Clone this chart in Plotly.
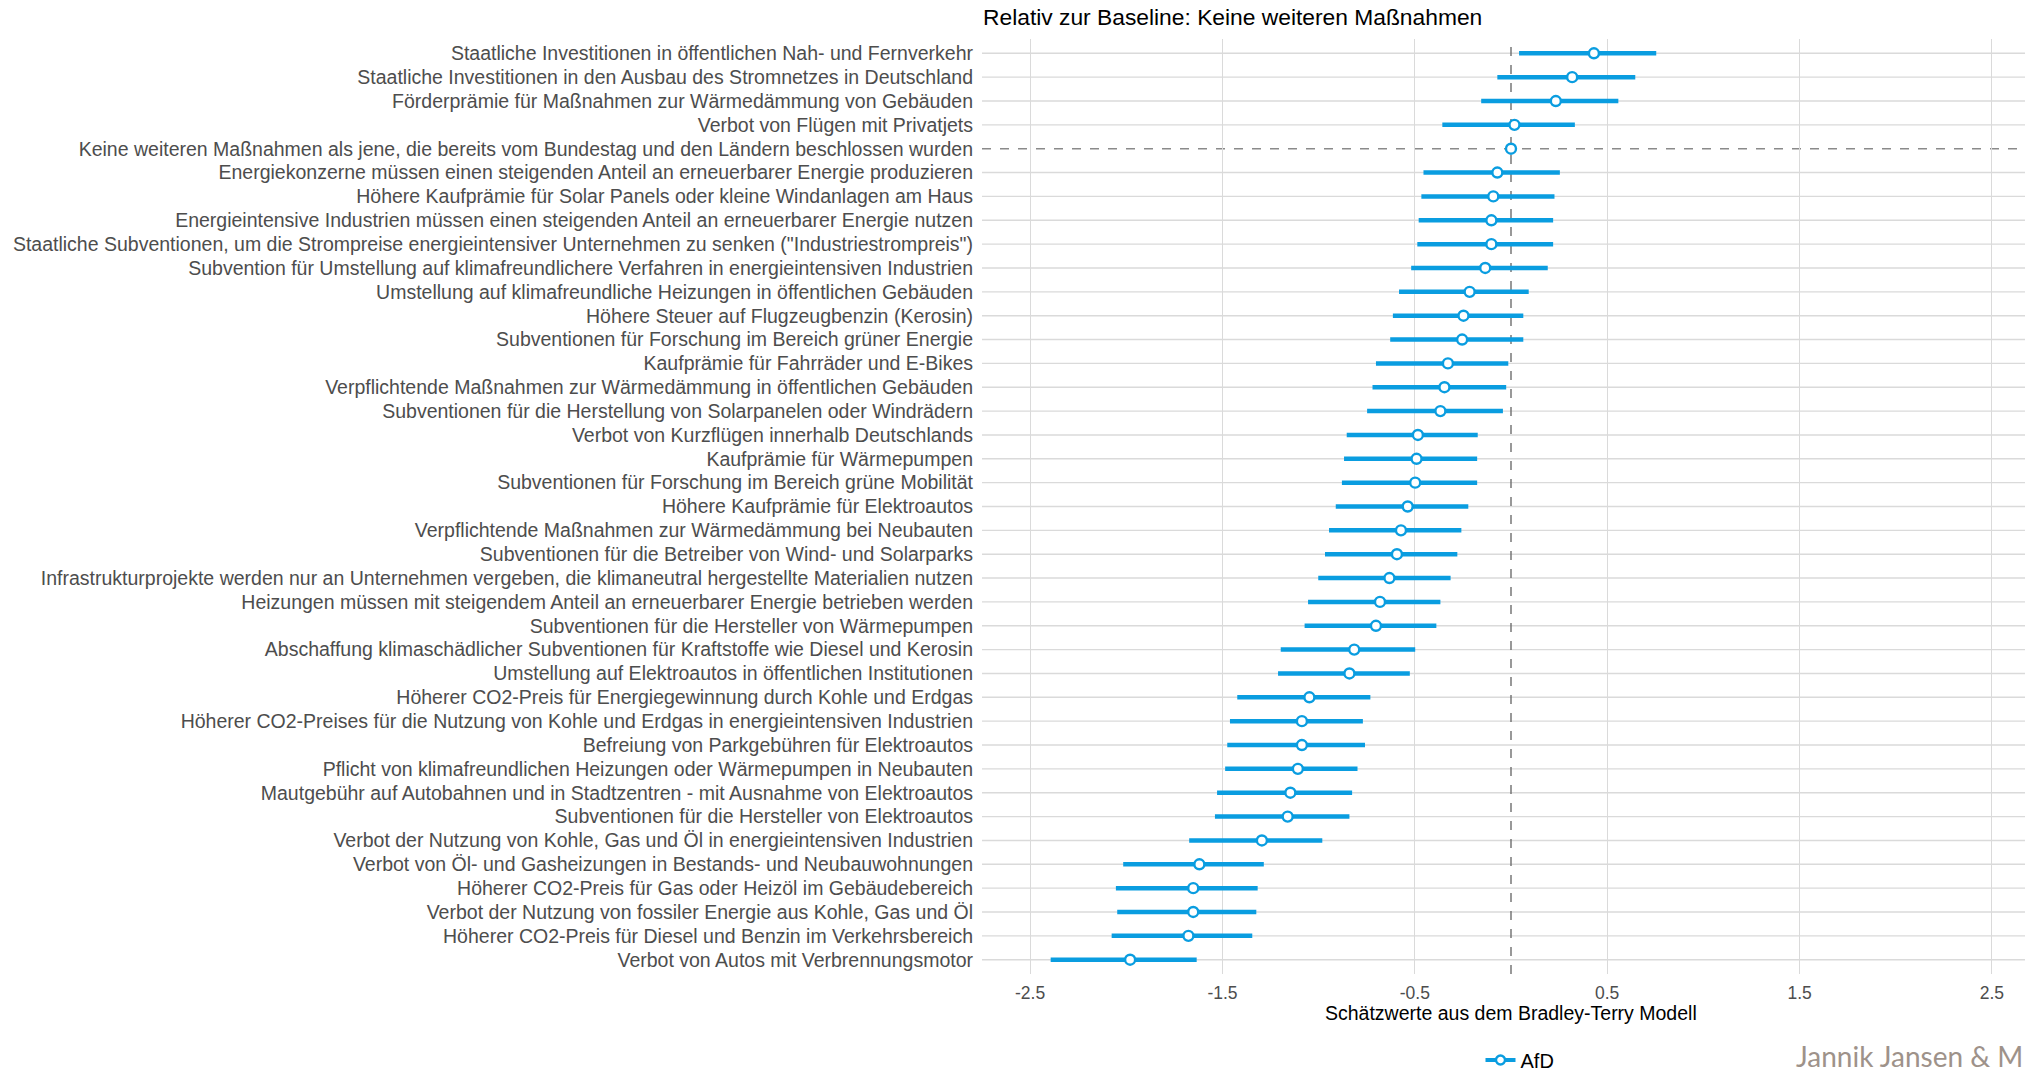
import plotly.graph_objects as go

# Maßnahmen (von oben nach unten), Schätzwerte und 95%-Konfidenzintervalle
massnahmen = [
    "Staatliche Investitionen in öffentlichen Nah- und Fernverkehr",
    "Staatliche Investitionen in den Ausbau des Stromnetzes in Deutschland",
    "Förderprämie für Maßnahmen zur Wärmedämmung von Gebäuden",
    "Verbot von Flügen mit Privatjets",
    "Keine weiteren Maßnahmen als jene, die bereits vom Bundestag und den Ländern beschlossen wurden",
    "Energiekonzerne müssen einen steigenden Anteil an erneuerbarer Energie produzieren",
    "Höhere Kaufprämie für Solar Panels oder kleine Windanlagen am Haus",
    "Energieintensive Industrien müssen einen steigenden Anteil an erneuerbarer Energie nutzen",
    "Staatliche Subventionen, um die Strompreise energieintensiver Unternehmen zu senken (\"Industriestrompreis\")",
    "Subvention für Umstellung auf klimafreundlichere Verfahren in energieintensiven Industrien",
    "Umstellung auf klimafreundliche Heizungen in öffentlichen Gebäuden",
    "Höhere Steuer auf Flugzeugbenzin (Kerosin)",
    "Subventionen für Forschung im Bereich grüner Energie",
    "Kaufprämie für Fahrräder und E-Bikes",
    "Verpflichtende Maßnahmen zur Wärmedämmung in öffentlichen Gebäuden",
    "Subventionen für die Herstellung von Solarpanelen oder Windrädern",
    "Verbot von Kurzflügen innerhalb Deutschlands",
    "Kaufprämie für Wärmepumpen",
    "Subventionen für Forschung im Bereich grüne Mobilität",
    "Höhere Kaufprämie für Elektroautos",
    "Verpflichtende Maßnahmen zur Wärmedämmung bei Neubauten",
    "Subventionen für die Betreiber von Wind- und Solarparks",
    "Infrastrukturprojekte werden nur an Unternehmen vergeben, die klimaneutral hergestellte Materialien nutzen",
    "Heizungen müssen mit steigendem Anteil an erneuerbarer Energie betrieben werden",
    "Subventionen für die Hersteller von Wärmepumpen",
    "Abschaffung klimaschädlicher Subventionen für Kraftstoffe wie Diesel und Kerosin",
    "Umstellung auf Elektroautos in öffentlichen Institutionen",
    "Höherer CO2-Preis für Energiegewinnung durch Kohle und Erdgas",
    "Höherer CO2-Preises für die Nutzung von Kohle und Erdgas in energieintensiven Industrien",
    "Befreiung von Parkgebühren für Elektroautos",
    "Pflicht von klimafreundlichen Heizungen oder Wärmepumpen in Neubauten",
    "Mautgebühr auf Autobahnen und in Stadtzentren - mit Ausnahme von Elektroautos",
    "Subventionen für die Hersteller von Elektroautos",
    "Verbot der Nutzung von Kohle, Gas und Öl in energieintensiven Industrien",
    "Verbot von Öl- und Gasheizungen in Bestands- und Neubauwohnungen",
    "Höherer CO2-Preis für Gas oder Heizöl im Gebäudebereich",
    "Verbot der Nutzung von fossiler Energie aus Kohle, Gas und Öl",
    "Höherer CO2-Preis für Diesel und Benzin im Verkehrsbereich",
    "Verbot von Autos mit Verbrennungsmotor",
]

schaetzwert = [
    0.431, 0.318, 0.233, 0.018, 0.0, -0.071, -0.092, -0.102, -0.102, -0.134,
    -0.215, -0.247, -0.254, -0.328, -0.346, -0.367, -0.484, -0.491, -0.498, -0.537,
    -0.572, -0.593, -0.632, -0.681, -0.702, -0.815, -0.840, -1.048, -1.087, -1.087,
    -1.108, -1.147, -1.161, -1.295, -1.620, -1.652, -1.652, -1.677, -1.980,
]
ki_unten = [
    0.042, -0.071, -0.155, -0.357, None, -0.455, -0.466, -0.480, -0.487, -0.519,
    -0.582, -0.614, -0.628, -0.702, -0.720, -0.748, -0.854, -0.868, -0.879, -0.911,
    -0.946, -0.967, -1.002, -1.055, -1.073, -1.197, -1.211, -1.423, -1.461, -1.475,
    -1.486, -1.528, -1.539, -1.673, -2.016, -2.054, -2.047, -2.076, -2.393,
]
ki_oben = [
    0.755, 0.646, 0.558, 0.332, None, 0.254, 0.226, 0.219, 0.219, 0.191,
    0.092, 0.064, 0.064, -0.014, -0.025, -0.042, -0.173, -0.176, -0.176, -0.222,
    -0.258, -0.279, -0.314, -0.367, -0.388, -0.498, -0.526, -0.731, -0.770, -0.759,
    -0.798, -0.826, -0.840, -0.981, -1.285, -1.317, -1.324, -1.345, -1.634,
]

baseline_index = 4
x_ticks = [-2.5, -1.5, -0.5, 0.5, 1.5, 2.5]
partei = "AfD"

BLAU = "#0A9DE0"
GRID = "#DADADA"
FONT = "Liberation Sans, Arial, sans-serif"

pos = list(range(len(massnahmen)))

# Konfidenzintervalle als Segmente
seg_x, seg_y = [], []
for i, (lo, hi) in enumerate(zip(ki_unten, ki_oben)):
    if lo is None:
        continue
    seg_x += [lo, hi, None]
    seg_y += [i, i, None]

fig = go.Figure()

# horizontale Gitterlinien pro Maßnahme (Baseline gestrichelt)
for i in pos:
    if i == baseline_index:
        fig.add_shape(type="line", xref="paper", x0=0, x1=1, yref="y", y0=i, y1=i,
                      line=dict(color="#8A8A8A", width=1.6, dash="dash"), layer="below")
    else:
        fig.add_shape(type="line", xref="paper", x0=0, x1=1, yref="y", y0=i, y1=i,
                      line=dict(color=GRID, width=1.4), layer="below")

# vertikale Referenzlinie bei 0
fig.add_shape(type="line", xref="x", x0=0, x1=0, yref="paper", y0=0, y1=1,
              line=dict(color="#6E6E6E", width=1.4, dash="dash"), layer="below")

fig.add_trace(go.Scatter(
    x=seg_x, y=seg_y, mode="lines",
    line=dict(color=BLAU, width=4.5),
    showlegend=False, hoverinfo="skip",
))
fig.add_trace(go.Scatter(
    x=schaetzwert, y=pos, mode="markers",
    marker=dict(symbol="circle", size=10, color="white",
                line=dict(color=BLAU, width=2.4)),
    showlegend=False,
))
# Legendeneintrag
fig.add_trace(go.Scatter(
    x=[None], y=[None], mode="lines+markers", name=partei,
    line=dict(color=BLAU, width=4),
    marker=dict(symbol="circle", size=9, color="white",
                line=dict(color=BLAU, width=2.4)),
))

fig.update_layout(
    width=2025, height=1072,
    margin=dict(l=982, r=0, t=39, b=98, autoexpand=False),
    paper_bgcolor="white", plot_bgcolor="white",
    font=dict(family=FONT, color="#4D4D4D"),
    title=dict(text="Relativ zur Baseline: Keine weiteren Maßnahmen",
               x=983 / 2025, xanchor="left", xref="container",
               y=1 - 17 / 1072, yanchor="middle", yref="container",
               font=dict(family=FONT, size=22.8, color="#000000")),
    xaxis=dict(range=[-2.75, 2.672], tickvals=x_ticks,
               ticktext=[str(v) for v in x_ticks],
               showgrid=True, gridcolor=GRID, gridwidth=1.4,
               zeroline=False, showline=False, ticks="",
               tickfont=dict(size=17.5, color="#4D4D4D"),
               ticklabelstandoff=6, automargin=False),
    yaxis=dict(range=[len(massnahmen) - 1 + 0.6, -0.6], tickvals=pos,
               ticktext=massnahmen, showgrid=False, zeroline=False,
               showline=False, ticks="",
               tickfont=dict(size=19.5, color="#4D4D4D"),
               ticklabelstandoff=8, automargin=False),
    legend=dict(orientation="h", x=(1520 - 982) / 1043, xanchor="center",
                yref="container", y=12 / 1072, yanchor="middle",
                font=dict(size=20, color="#000000"),
                bgcolor="rgba(0,0,0,0)"),
    showlegend=True,
)

# Achsentitel, zentriert unter dem Panel
fig.add_annotation(text="Schätzwerte aus dem Bradley-Terry Modell",
                   xref="x", x=0, yref="paper", y=-(1013 - 974) / 935,
                   xanchor="center", yanchor="middle", showarrow=False,
                   font=dict(family=FONT, size=19.5, color="#000000"))

# Autorenzeile am rechten unteren Rand
fig.add_annotation(text="Jannik Jansen & M",
                   xref="paper", x=1.0, yref="paper",
                   y=-(1056 - 974) / 935, xanchor="right", yanchor="middle",
                   showarrow=False,
                   font=dict(family="Lato, Open Sans, sans-serif", size=28,
                             color="#9E928A"))

fig.write_html("out.html")
